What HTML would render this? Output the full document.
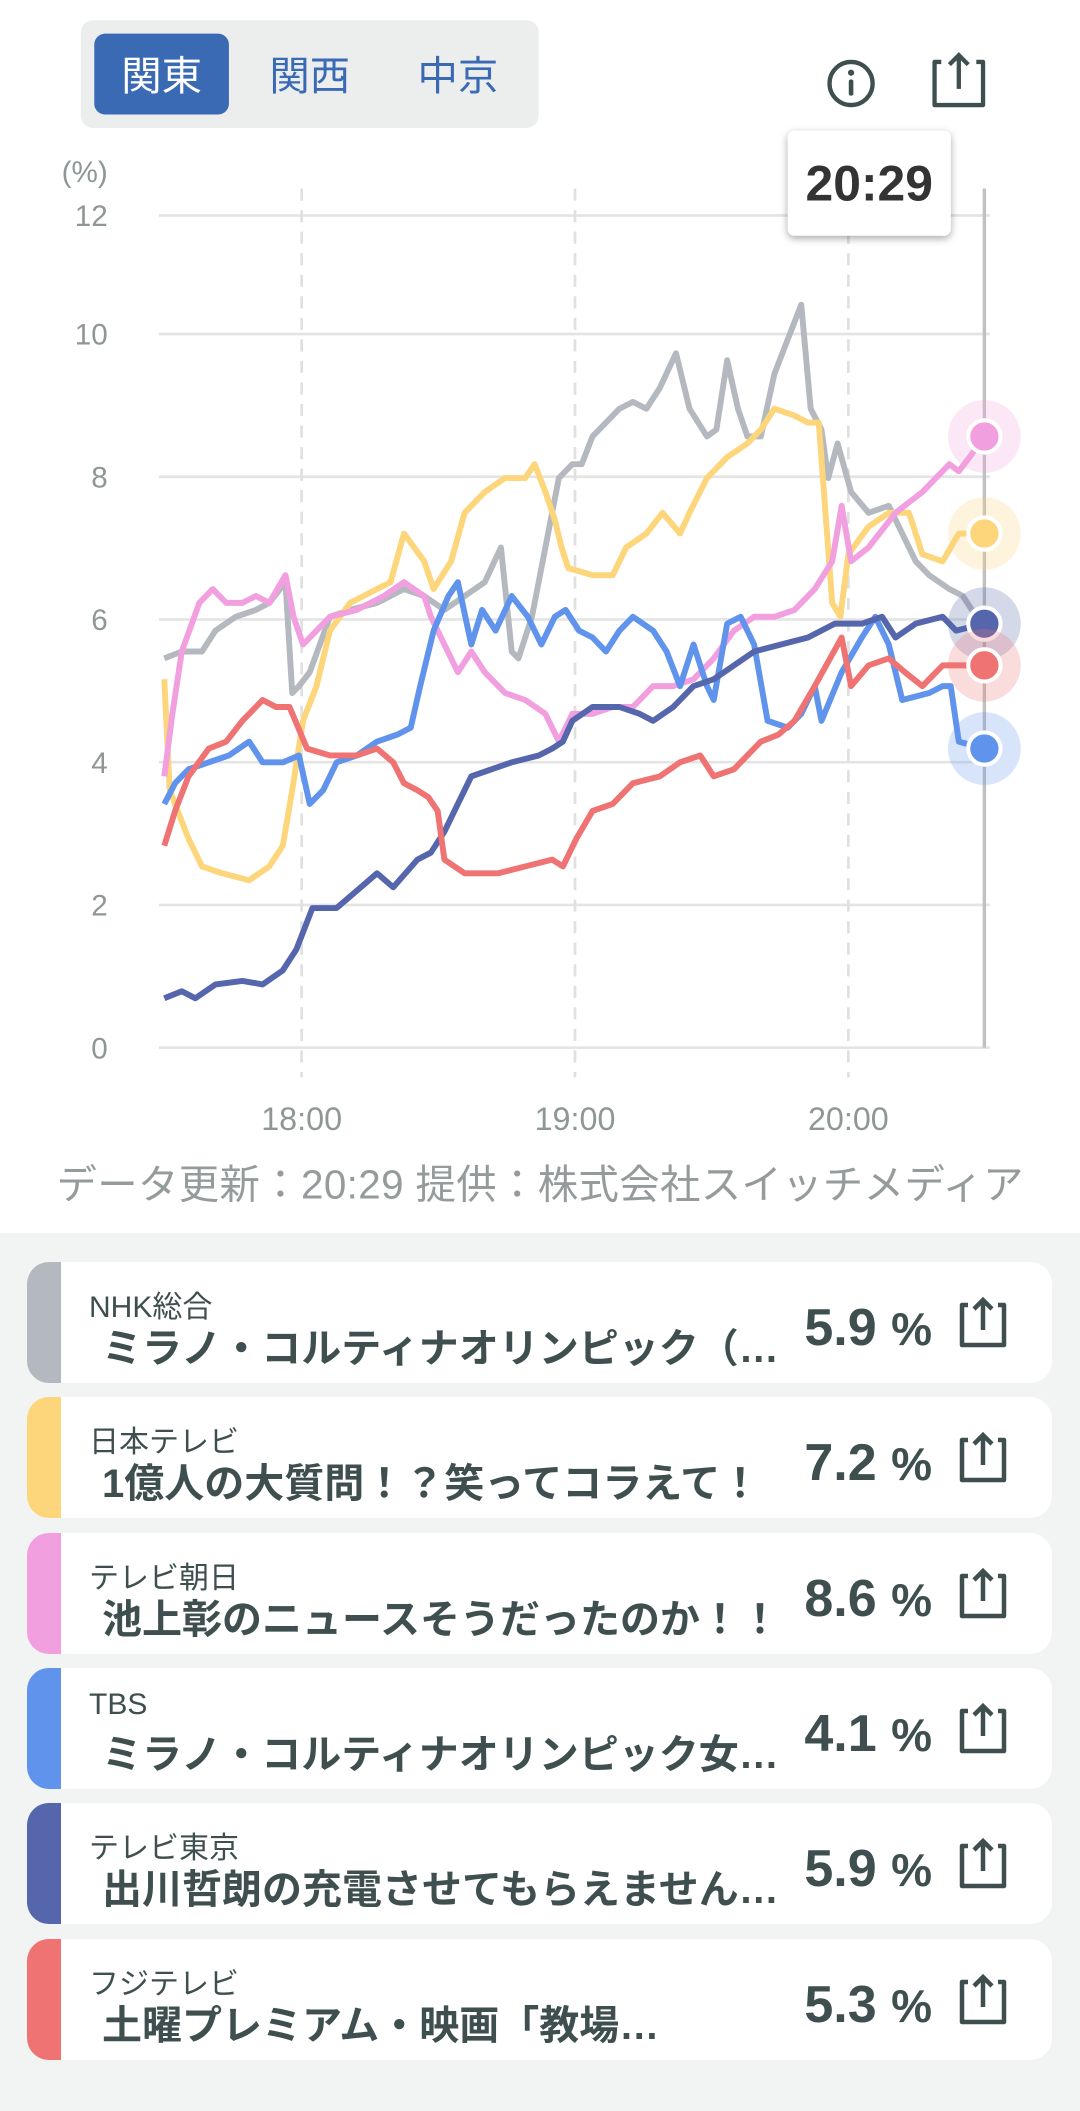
<!DOCTYPE html>
<html><head><meta charset="utf-8"><style>
*{margin:0;padding:0;box-sizing:border-box}
body{width:1080px;height:2111px;background:#fff;font-family:"Liberation Sans","Noto Sans CJK JP",sans-serif;position:relative;overflow:hidden}
.gray{position:absolute;left:0;top:1233px;width:1080px;height:878px;background:#f2f4f3}
.card{position:absolute;left:27px;width:1025px;height:121px;background:#fff;border-radius:22px;overflow:hidden}
.bar{position:absolute;left:0;top:0;width:34px;height:121px}
.ch{position:absolute;left:62px;top:20px;font-size:30px;color:#3f4f4f;white-space:nowrap}
.ti{position:absolute;left:75px;top:54px;font-size:40px;font-weight:bold;color:#3f4f4f;white-space:nowrap;width:720px;overflow:hidden}
.pc{position:absolute;right:120px;top:36px;font-size:52px;font-weight:bold;color:#3f4f4f;white-space:nowrap}
.pc span{font-size:46px}
.sh{position:absolute;left:928px;top:34px}
</style></head><body>
<svg style="position:absolute;left:0;top:0" width="1080" height="1233" viewBox="0 0 802 915.6" id="ch">
<rect x="60" y="15" width="340" height="80" rx="9" fill="#eceeee"/>
<rect x="70" y="25" width="100" height="60" rx="8" fill="#3b6ab5"/>
<g font-size="30" text-anchor="middle" font-family="Liberation Sans,Noto Sans CJK JP,sans-serif">
<text x="120" y="67" fill="#fff">関東</text><text x="230" y="67" fill="#3b6ab5">関西</text><text x="340" y="67" fill="#3b6ab5">中京</text></g>
<circle cx="632" cy="62" r="16" fill="none" stroke="#3f4f4f" stroke-width="3.2"/>
<circle cx="632" cy="54" r="2.3" fill="#3f4f4f"/><rect x="630.3" y="59" width="3.4" height="12" rx="1.5" fill="#3f4f4f"/>
<path d="M699 46 h-5 v32 h36 v-32 h-5" fill="none" stroke="#3f4f4f" stroke-width="3.2" stroke-linejoin="round"/>
<path d="M712 66 V41 M705 48 L712 41 L719 48" fill="none" stroke="#3f4f4f" stroke-width="3.2"/>
<g stroke="#e4e4e4" stroke-width="2">
<line x1="118" y1="160" x2="735" y2="160"/><line x1="118" y1="248" x2="735" y2="248"/><line x1="118" y1="354" x2="735" y2="354"/><line x1="118" y1="460" x2="735" y2="460"/><line x1="118" y1="566" x2="735" y2="566"/><line x1="118" y1="672" x2="735" y2="672"/><line x1="118" y1="778" x2="735" y2="778"/></g>
<g stroke="#e0e0e0" stroke-width="2" stroke-dasharray="9,7">
<line x1="224" y1="140" x2="224" y2="800"/><line x1="427" y1="140" x2="427" y2="800"/><line x1="630" y1="140" x2="630" y2="800"/></g>
<line x1="731" y1="140" x2="731" y2="778" stroke="#c0c0c0" stroke-width="2.5"/>
<g fill="#8e9696" font-size="22" text-anchor="end"><text x="80" y="135">(%)</text>
<text x="80" y="168">12</text><text x="80" y="256">10</text><text x="80" y="362">8</text><text x="80" y="468">6</text><text x="80" y="574">4</text><text x="80" y="680">2</text><text x="80" y="786">0</text></g>
<g fill="#8e9696" font-size="24" text-anchor="middle"><text x="224" y="839">18:00</text><text x="427" y="839">19:00</text><text x="630" y="839">20:00</text></g>
<text x="401" y="890" fill="#959b9b" font-size="30" text-anchor="middle" textLength="718">データ更新：20:29  提供：株式会社スイッチメディア</text>
<g id="lines" transform="translate(0,-11)"></g>
<defs><filter id="sd" x="-20%" y="-20%" width="140%" height="150%"><feDropShadow dx="0" dy="2" stdDeviation="3" flood-opacity="0.35"/></filter></defs>
<rect x="585" y="97" width="121" height="78" rx="5" fill="#fff" filter="url(#sd)"/>
<text x="645.5" y="149" font-size="37" font-weight="bold" fill="#333" text-anchor="middle">20:29</text>
</svg>
<div class="gray"></div>
<div id="cards"></div>
<script>
const Y=v=>778-v*51.5;
const S=[
["#b4b9bf",[[122,5.4],[135,5.5],[150,5.5],[160,5.8],[175,6.0],[190,6.1],[200,6.2],[212,6.5],[217,4.9],[222,5.0],[230,5.2],[245,6.0],[260,6.1],[280,6.2],[300,6.4],[315,6.3],[330,6.1],[345,6.3],[360,6.5],[372,7.0],[380,5.5],[385,5.4],[395,6.0],[405,7.0],[415,8.0],[425,8.2],[432,8.2],[440,8.6],[450,8.8],[460,9.0],[470,9.1],[480,9.0],[490,9.3],[502,9.8],[512,9.0],[525,8.6],[532,8.7],[540,9.7],[548,9.0],[555,8.6],[565,8.6],[575,9.5],[585,10.0],[595,10.5],[602,9.0],[610,8.7],[615,8.0],[622,8.5],[632,7.8],[645,7.5],[660,7.6],[670,7.2],[680,6.8],[690,6.6],[705,6.4],[715,6.3],[725,6.0],[731,5.9]]],
["#fdd57a",[[122,5.1],[126,3.5],[140,2.8],[150,2.4],[165,2.3],[185,2.2],[200,2.4],[210,2.7],[217,3.5],[225,4.5],[235,5.0],[245,5.8],[260,6.2],[280,6.4],[290,6.5],[300,7.2],[315,6.8],[322,6.4],[335,6.8],[345,7.5],[360,7.8],[375,8.0],[390,8.0],[397,8.2],[405,7.8],[412,7.4],[417,7.0],[422,6.7],[440,6.6],[455,6.6],[465,7.0],[480,7.2],[492,7.5],[505,7.2],[512,7.5],[525,8.0],[540,8.3],[555,8.5],[565,8.7],[575,9.0],[590,8.9],[600,8.8],[608,8.8],[618,6.2],[624,6.0],[630,6.9],[645,7.3],[660,7.5],[675,7.5],[685,6.9],[700,6.8],[712,7.2],[731,7.2]]],
["#f29fe0",[[122,3.7],[128,4.6],[135,5.5],[148,6.2],[158,6.4],[168,6.2],[180,6.2],[190,6.3],[200,6.2],[212,6.6],[218,6.0],[225,5.6],[235,5.8],[245,6.0],[265,6.1],[285,6.3],[300,6.5],[315,6.3],[320,6.0],[330,5.6],[340,5.2],[350,5.5],[360,5.2],[375,4.9],[390,4.8],[405,4.6],[415,4.2],[425,4.6],[440,4.6],[455,4.7],[470,4.7],[485,5.0],[500,5.0],[515,5.1],[530,5.4],[545,5.8],[560,6.0],[575,6.0],[590,6.1],[605,6.4],[618,6.8],[625,7.6],[632,6.8],[645,7.0],[665,7.5],[685,7.8],[695,8.0],[705,8.2],[712,8.1],[720,8.3],[731,8.6]]],
["#5f93ec",[[122,3.3],[130,3.6],[140,3.8],[155,3.9],[170,4.0],[185,4.2],[195,3.9],[210,3.9],[222,4.0],[230,3.3],[240,3.5],[250,3.9],[265,4.0],[280,4.2],[295,4.3],[305,4.4],[312,5.0],[322,5.8],[333,6.3],[340,6.5],[350,5.6],[358,6.1],[368,5.8],[380,6.3],[392,6.0],[402,5.6],[412,6.0],[420,6.1],[430,5.8],[440,5.7],[450,5.5],[460,5.8],[470,6.0],[485,5.8],[495,5.5],[505,5.0],[515,5.6],[525,5.0],[530,4.8],[540,5.9],[550,6.0],[560,5.6],[570,4.5],[585,4.4],[595,4.6],[605,5.0],[610,4.5],[625,5.2],[640,5.7],[650,6.0],[660,5.6],[670,4.8],[690,4.9],[700,5.0],[706,5.0],[712,4.2],[731,4.1]]],
["#5566ac",[[122,0.5],[135,0.6],[145,0.5],[160,0.7],[180,0.75],[195,0.7],[210,0.9],[220,1.2],[232,1.8],[250,1.8],[262,2.0],[280,2.3],[292,2.1],[310,2.5],[320,2.6],[330,2.9],[340,3.3],[350,3.7],[365,3.8],[380,3.9],[400,4.0],[410,4.1],[418,4.2],[425,4.5],[440,4.7],[460,4.7],[475,4.6],[485,4.5],[500,4.7],[515,5.0],[530,5.1],[545,5.3],[560,5.5],[580,5.6],[600,5.7],[620,5.9],[640,5.9],[655,6.0],[665,5.7],[680,5.9],[700,6.0],[710,5.8],[731,5.9]]],
["#ee7372",[[122,2.7],[130,3.2],[140,3.7],[155,4.1],[168,4.2],[180,4.5],[195,4.8],[205,4.7],[215,4.7],[228,4.1],[245,4.0],[265,4.0],[280,4.1],[292,3.9],[300,3.6],[310,3.5],[318,3.4],[325,3.2],[330,2.5],[345,2.3],[370,2.3],[390,2.4],[410,2.5],[418,2.4],[428,2.8],[440,3.2],[455,3.3],[470,3.6],[490,3.7],[505,3.9],[520,4.0],[530,3.7],[545,3.8],[555,4.0],[565,4.2],[578,4.3],[590,4.5],[605,5.0],[625,5.7],[632,5.0],[645,5.3],[660,5.4],[672,5.2],[685,5.0],[700,5.3],[712,5.3],[731,5.3]]]];
let h='';
S.forEach(s=>{h+=`<polyline fill="none" stroke="${s[0]}" stroke-width="4.4" stroke-linejoin="round" points="${s[1].map(p=>p[0]+','+Y(p[1]).toFixed(1)).join(' ')}"/>`;});
[[1,7.2],[2,8.6],[4,5.9],[5,5.3],[3,4.1]].forEach(([i,v])=>{const c=S[i][0];h+=`<circle cx="731" cy="${Y(v)}" r="27" fill="${c}" opacity="0.25"/><circle cx="731" cy="${Y(v)}" r="12" fill="${c}" stroke="#fff" stroke-width="3"/>`;});
document.getElementById('lines').innerHTML=h;
const C=[["#b4b9bf","NHK総合","ミラノ・コルティナオリンピック（…","5.9"],["#fdd57a","日本テレビ","1億人の大質問！？笑ってコラえて！","7.2"],["#f29fe0","テレビ朝日","池上彰のニュースそうだったのか！！","8.6"],["#5f93ec","TBS","ミラノ・コルティナオリンピック女…","4.1"],["#5566ac","テレビ東京","出川哲朗の充電させてもらえません…","5.9"],["#ee7372","フジテレビ","土曜プレミアム・映画「教場…","5.3"]];
let k='';
C.forEach((c,i)=>{k+=`<div class="card" style="top:${1262+i*135.3}px"><div class="bar" style="background:${c[0]}"></div><div class="ch">${c[1]}</div><div class="ti">${c[2]}</div><div class="pc">${c[3]} <span>%</span></div><svg class="sh" width="56" height="56" viewBox="0 0 56 56"><path d="M13 9 h-6 v40 h42 v-40 h-6" fill="none" stroke="#3f4f4f" stroke-width="4.5" stroke-linejoin="round"/><path d="M28 34 V4 M19 13 L28 4 L37 13" fill="none" stroke="#3f4f4f" stroke-width="4.5"/></svg></div>`;});
document.getElementById('cards').innerHTML=k;
</script>
</body></html>
